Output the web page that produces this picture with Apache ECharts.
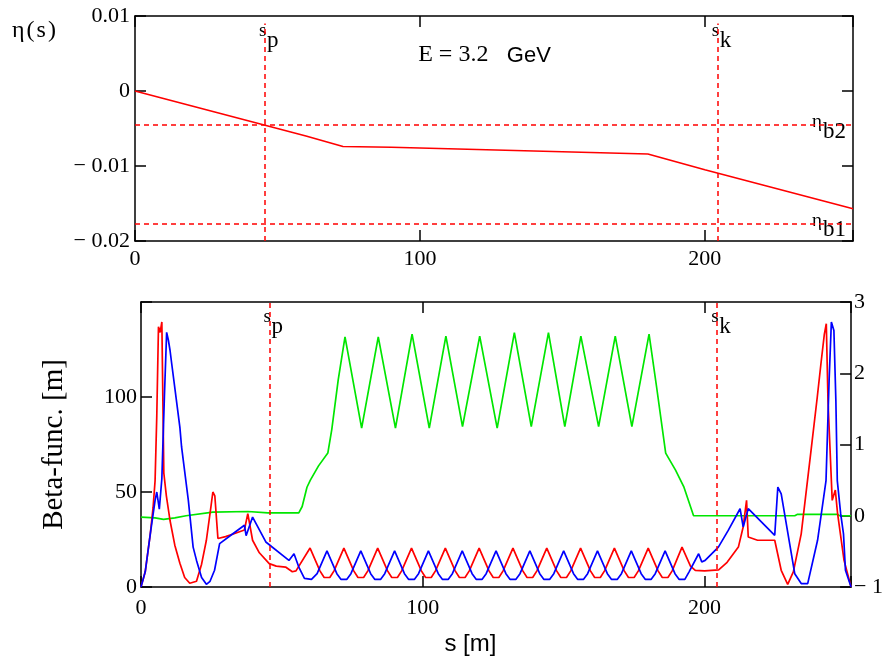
<!DOCTYPE html>
<html><head><meta charset="utf-8">
<script src="https://cdn.jsdelivr.net/npm/echarts@6/dist/echarts.min.js"></script>
<style>html,body{margin:0;padding:0;background:#fff}#c{width:886px;height:657px}</style>
</head><body><div id="c"></div><script>
// ---- data ----
const S_P = 45.6, S_K = 204.5;
const ETA_B2 = -0.00453, ETA_B1 = -0.01768;
const S_MAX = 252;
const xTicks = [0, 100, 200];
const etaTicks = [-0.02, -0.01, 0, 0.01];
const betaTicks = [0, 50, 100];
const dispTicks = [-1, 0, 1, 2, 3];

const etaPts = [[0,0],[10,-0.001],[20,-0.002],[30,-0.003],[40,-0.004],[50,-0.005],[60,-0.006],[73,-0.0074],
  [90,-0.0075],[110,-0.0077],[130,-0.0079],[150,-0.0081],[170,-0.0083],[180,-0.0084],[200,-0.0105],
  [220,-0.0125],[240,-0.0145],[252,-0.0157]];

const betaRed = [[0,0],[1.5,8],[3.3,28],[4.3,42],[5,56],[5.6,90],[6.2,137],[6.8,134],[7.4,139.5],[8.1,60],[9,48],
  [10.3,35],[12,22],[13.8,12.5],[15.5,5],[17.3,2],[19.7,3],[21.5,12],[23.2,24.6],[24.8,42],[25.5,50],[26.2,48],
  [27.3,25.5],[30,26.5],[33,28],[36.7,30],[37.9,38.6],[39.6,24.6],[42,18],[45.5,12.3],[48,11],[51.3,10.5],
  [53.7,8],[55,8.5],
  [60,20.5],[63.5,8.5],[65,5],[67,5],[68.5,8.5],
  [72,20.5],[75.5,8.5],[77,5],[79,5],[80.5,8.5],
  [84,20.5],[87.5,8.5],[89,5],[91,5],[92.5,8.5],
  [96,20.5],[99.5,8.5],[101,5],[103,5],[104.5,8.5],
  [108,20.5],[111.5,8.5],[113,5],[115,5],[116.5,8.5],
  [120,20.5],[123.5,8.5],[125,5],[127,5],[128.5,8.5],
  [132,20.5],[135.5,8.5],[137,5],[139,5],[140.5,8.5],
  [144,20.5],[147.5,8.5],[149,5],[151,5],[152.5,8.5],
  [156,20.5],[159.5,8.5],[161,5],[163,5],[164.5,8.5],
  [168,20.5],[171.5,8.5],[173,5],[175,5],[176.5,8.5],
  [180,20.5],[183.5,8.5],[185,5],[187,5],[188.5,8.5],
  [192,21],[195,11],[196.7,8.8],[200,8.5],[205,9],[208,13],[212,21],[213.7,31.6],[214.9,45.6],[215.5,26.3],
  [218.8,24.6],[224.9,24.6],[227.2,8.8],[229.5,1.4],[231.5,8],[234.3,28],[237.8,72],[240,100],[241.3,117.5],
  [242.5,133],[243.2,138.6],[243.8,98],[245.3,45.6],[246.4,51],[247.2,38.7],[249.5,14],[252,0]];

const betaBlue = [[0,0],[1.5,8],[3.3,28],[5,45.6],[5.6,50],[6.5,41],[7.4,57],[8.3,100],[9.1,134],[9.7,130],
  [10.3,124.6],[10.9,117.5],[13.8,84],[14.4,73.7],[16.8,45.6],[18.5,21],[19.7,14],[21.5,5],[23.2,1.4],[24.5,3],
  [26.1,8.8],[27.9,22.8],[32.6,28],[36.7,32.5],[37.3,27],[39.6,36.8],[44.3,23.7],[52.5,14],[54.3,17.5],[56,10.5],
  [58,4.5],[60.5,4],[62.5,7],
  [66,19],[69.5,7],[71,4],[73,4],[74.5,7],
  [78,19],[81.5,7],[83,4],[85,4],[86.5,7],
  [90,19],[93.5,7],[95,4],[97,4],[98.5,7],
  [102,19],[105.5,7],[107,4],[109,4],[110.5,7],
  [114,19],[117.5,7],[119,4],[121,4],[122.5,7],
  [126,19],[129.5,7],[131,4],[133,4],[134.5,7],
  [138,19],[141.5,7],[143,4],[145,4],[146.5,7],
  [150,19],[153.5,7],[155,4],[157,4],[158.5,7],
  [162,19],[165.5,7],[167,4],[169,4],[170.5,7],
  [174,19],[177.5,7],[179,4],[181,4],[182.5,7],
  [186,19],[189.5,7],[191,4],[193,4],[194.5,8],
  [197.9,17.5],[199,13.2],[200.2,14],[204.9,21],[208.4,29.8],[212.6,41.2],[213.7,31.6],[215.5,41.2],
  [224.9,27.2],[226,52.6],[227.2,49],[232,7],[234.3,1.8],[236.6,1.8],[240.1,24.6],[243.1,56],[244.2,108.8],
  [245,139.5],[245.9,135],[246.6,98],[247.1,56],[248.3,38.6],[249.3,28],[250,8.8],[252,0]];

const dispGreen = [[0,-0.02],[5,-0.03],[8,-0.05],[12,-0.03],[16,0],[25.5,0.05],[38,0.06],[45,0.04],[56,0.04],
  [57.2,0.13],[58.9,0.4],[60.1,0.5],[63,0.7],[66.3,0.88],[67.7,1.21],[70,1.91],[72.4,2.51],
  [78.3,1.23],[84.2,2.51],[90.3,1.23],[96.2,2.55],[102.3,1.23],[108.2,2.52],[114.1,1.25],[120.2,2.52],
  [126.4,1.23],[132.5,2.57],[138.5,1.25],[144.6,2.57],[150.4,1.25],[156.1,2.52],[162.4,1.25],[168.3,2.52],
  [174.2,1.25],[180.3,2.55],[183,1.8],[186.2,0.88],[189.7,0.64],[192.6,0.41],[196.1,0],[232,0],[233,0.02],
  [247,0.02],[248,0],[252,0]];

// ---- styling ----
const SERIF = '"Liberation Serif","Times New Roman",serif';
const SANS = '"Liberation Sans",Arial,sans-serif';
const RED = '#ff0000', BLUE = '#0000ff', GREEN = '#00e600';
const LW = 1.7;
const fmtMinus = (s) => s.replace('-', '\u2212 ');

function axisBase(extra) {
  return Object.assign({
    type: 'value',
    axisLine: { show: true, onZero: false, lineStyle: { color: '#000', width: 1.5 } },
    splitLine: { show: false },
    axisTick: { show: true, inside: true, length: 11, lineStyle: { color: '#000', width: 1.5 } },
  }, extra);
}
const labelStyle = { fontFamily: SERIF, fontSize: 22, color: '#000' };

function xAx(grid, pos, showLabel, margin) {
  return axisBase({
    gridIndex: grid, position: pos, min: 0, max: S_MAX, interval: 100,
    axisLabel: Object.assign({ show: showLabel, margin: margin,
      formatter: v => xTicks.indexOf(v) >= 0 ? String(v) : '' }, labelStyle)
  });
}

const dashed = { color: RED, width: 1.5, type: [5, 4] };

const option = {
  animation: false,
  backgroundColor: '#fff',
  grid: [
    { left: 135, top: 16, width: 718, height: 225 },
    { left: 141, top: 302, width: 717, height: 285 }
  ],
  xAxis: [
    xAx(0, 'bottom', true, 7), xAx(0, 'top', false, 8),
    xAx(1, 'bottom', true, 10), xAx(1, 'top', false, 8)
  ],
  yAxis: [
    axisBase({ gridIndex: 0, position: 'left', min: -0.02, max: 0.01, interval: 0.01,
      axisLabel: Object.assign({ margin: 5, padding: [6, 0, 0, 0], formatter: v => {
        const r = Math.round(v * 100);
        return r === 0 ? '0' : fmtMinus((r / 100).toFixed(2));
      } }, labelStyle) }),
    axisBase({ gridIndex: 0, position: 'right', min: -0.02, max: 0.01, interval: 0.01, axisLabel: { show: false } }),
    axisBase({ gridIndex: 1, position: 'left', min: 0, max: 150, interval: 50,
      axisLabel: Object.assign({ margin: 4, padding: [6, 0, 0, 0],
        formatter: v => betaTicks.indexOf(v) >= 0 ? String(v) : '' }, labelStyle) }),
    axisBase({ gridIndex: 1, position: 'right', min: -1, max: 3, interval: 1,
      axisLabel: Object.assign({ margin: 3, padding: [6, 0, 0, 0],
        formatter: v => dispTicks.indexOf(v) >= 0 ? fmtMinus(String(v)) : '' }, labelStyle) })
  ],
  series: [
    { type: 'line', xAxisIndex: 0, yAxisIndex: 0, data: etaPts, showSymbol: false, symbol: 'none',
      lineStyle: { color: RED, width: LW }, z: 3,
      markLine: { silent: true, symbol: 'none', precision: 8, label: { show: false }, lineStyle: dashed,
        data: [ [{ coord: [S_P, -0.02] }, { coord: [S_P, 0.009] }],
                [{ coord: [S_K, -0.02] }, { coord: [S_K, 0.009] }],
                [{ coord: [0, ETA_B2] }, { coord: [S_MAX, ETA_B2] }],
                [{ coord: [0, ETA_B1] }, { coord: [S_MAX, ETA_B1] }] ] } },
    { type: 'line', xAxisIndex: 2, yAxisIndex: 3, data: dispGreen, symbol: 'none',
      lineStyle: { color: GREEN, width: LW }, z: 2 },
    { type: 'line', xAxisIndex: 2, yAxisIndex: 2, data: betaRed, symbol: 'none',
      lineStyle: { color: RED, width: LW }, z: 3,
      markLine: { silent: true, symbol: 'none', precision: 8, label: { show: false }, lineStyle: dashed,
        data: [ { xAxis: S_P }, { xAxis: S_K } ] } },
    { type: 'line', xAxisIndex: 2, yAxisIndex: 2, data: betaBlue, symbol: 'none',
      lineStyle: { color: BLUE, width: LW }, z: 4 }
  ]
};

const chart = echarts.init(document.getElementById('c'), null, { renderer: 'canvas' });
chart.setOption(option);

// ---- annotations placed through the axes' scales ----
const P0 = pt => chart.convertToPixel({ xAxisIndex: 0, yAxisIndex: 0 }, pt);
const P1 = pt => chart.convertToPixel({ xAxisIndex: 2, yAxisIndex: 2 }, pt);
function txt(x, y, text, font, align, extra) {
  return Object.assign({ type: 'text', x: x, y: y, silent: true,
    style: { text: text, font: font, fill: '#000', align: align || 'left', verticalAlign: 'middle' } }, extra || {});
}
const g = [];
function sub(P, sVal, topVal, main, subs) {
  const p = P([sVal, topVal]);
  g.push(txt(p[0] - 6, p[1] + 15, main, '19px ' + SERIF, 'left'));
  g.push(txt(p[0] + 2, p[1] + 25, subs, '23px ' + SERIF, 'left'));
}
sub(P0, S_P, 0.01, 's', 'p');
sub(P0, S_K, 0.01, 's', 'k');
sub(P1, S_P, 150, 's', 'p');
sub(P1, S_K, 150, 's', 'k');
function etaLab(val, subs) {
  const p = P0([S_MAX, val]);
  g.push(txt(p[0] - 31, p[1] - 3, '\u03b7', '19px ' + SERIF, 'right'));
  g.push(txt(p[0] - 7, p[1] + 6.5, subs, '23px ' + SERIF, 'right'));
}
etaLab(ETA_B2, 'b2');
etaLab(ETA_B1, 'b1');
const pe = P0([99.4, 0.0048]);
g.push(txt(pe[0], pe[1], 'E = 3.2', '24px ' + SERIF, 'left'));
const pg = P0([130.5, 0.0048]);
g.push(txt(pg[0], pg[1] + 0.5, 'GeV', '22px ' + SANS, 'left'));
g.push(txt(12, 31, '\u03b7\u200a(\u200as\u200a)', '24px ' + SERIF, 'left'));
const ps = P1([116.9, 0]);
g.push(txt(ps[0], ps[1] + 57, 's [m]', '24px ' + SANS, 'center'));
const pb = P1([0, 75]);
g.push(txt(pb[0] - 87, pb[1], 'Beta-func. [m]', '29px ' + SERIF, 'center', { rotation: Math.PI / 2 }));
chart.setOption({ graphic: g });
</script></body></html>
